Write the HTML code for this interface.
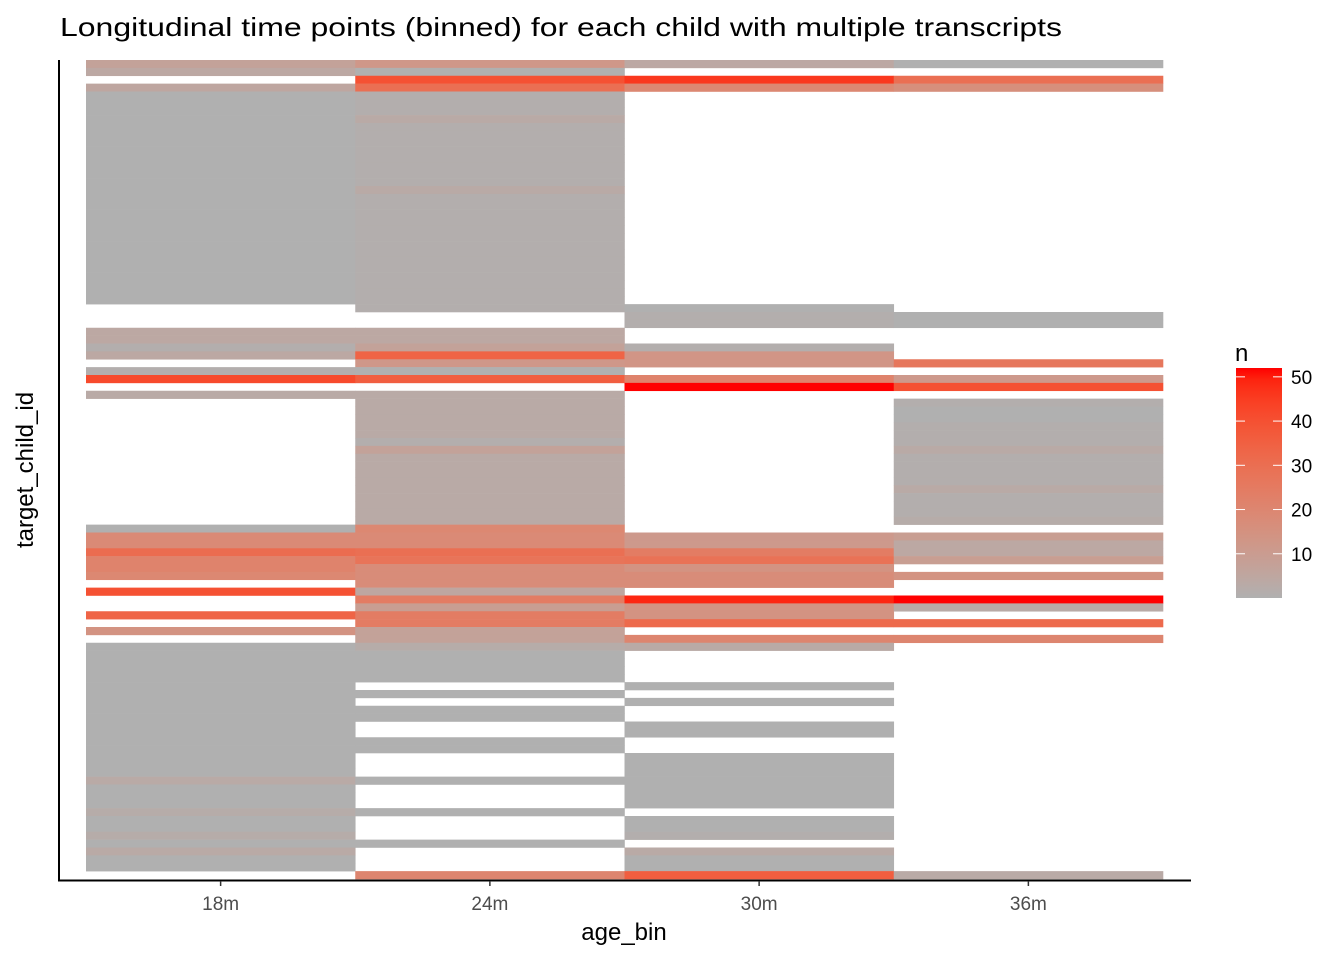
<!DOCTYPE html>
<html><head><meta charset="utf-8">
<style>
html,body{margin:0;padding:0;background:#fff;}
svg{display:block;font-family:"Liberation Sans",Arial,sans-serif;}
</style></head>
<body>
<svg id="chart" width="1344" height="960" xmlns="http://www.w3.org/2000/svg">
  <text x="60" y="36" font-size="26" textLength="1002" lengthAdjust="spacingAndGlyphs" fill="#000">Longitudinal time points (binned) for each child with multiple transcripts</text>
  <g id="cells"></g>
  <line x1="59" y1="60" x2="59" y2="881" stroke="#000" stroke-width="2"/>
  <line x1="58" y1="880.5" x2="1191" y2="880.5" stroke="#000" stroke-width="2"/>
  <g id="xticks"></g>
  <text x="624" y="940" font-size="24" text-anchor="middle" fill="#000">age_bin</text>
  <text transform="translate(33,470) rotate(-90)" font-size="24" text-anchor="middle" fill="#000">target_child_id</text>
  <text x="1235" y="361" font-size="24" fill="#000">n</text>
  <defs><linearGradient id="lg" x1="0" y1="1" x2="0" y2="0"></linearGradient></defs>
  <rect x="1236" y="368" width="46" height="230" fill="url(#lg)"/>
  <g id="legend"></g>
</svg>
<script>
const categories = ["18m","24m","30m","36m"];
const c18 = [8,5,0,6,1,1,1,1,1,1, 1,1,1,1,1,1,1,1,1,1, 1,1,1,1,1,1,1,1,1,1, 1,0,0,0,5,5,2,5,0,2, 42,0,4,0,0,0,0,0,0,0, 0,0,0,0,0,0,0,0,0,1, 19,19,31,22,22,20,0,40,0,0, 34,0,15,0,1,1,1,1,1,1, 1,1,1,1,1,1,1,1,1,1, 1,4,1,1,1,3,1,1,3,1, 4,1,1,0];
const c24 = [13,1,40,30,2,2,2,4,2,2, 2,2,2,2,2,2,4,2,2,2, 2,2,2,2,2,2,2,2,2,2, 2,2,0,0,5,5,8,34,13,1, 36,0,4,4,4,4,4,4,2,8, 4,4,4,4,4,4,4,4,4,20, 19,19,30,28,18,18,18,6,25,10, 25,25,8,8,3,1,1,1,1,0, 1,0,1,1,0,0,1,1,0,0, 0,1,0,0,0,1,0,0,0,1, 0,0,0,21];
const c30 = [5,0,46,20,0,0,0,0,0,0, 0,0,0,0,0,0,0,0,0,0, 0,0,0,0,0,0,0,0,0,0, 0,1,2,2,0,0,2,14,14,0, 22,52,0,0,0,0,0,0,0,0, 0,0,0,0,0,0,0,0,0,0, 12,12,25,29,15,18,18,0,49,15, 15,32,0,21,4,0,0,0,0,1, 0,1,0,0,1,1,0,0,1,1, 1,1,1,1,1,0,1,1,2,0, 4,1,1,36];
const c36 = [1,0,30,17,0,0,0,0,0,0, 0,0,0,0,0,0,0,0,0,0, 0,0,0,0,0,0,0,0,0,0, 0,0,1,1,0,0,0,0,27,0, 12,40,0,2,1,1,2,2,2,4, 2,2,2,2,4,2,2,2,3,0, 10,5,5,10,0,15,0,0,52,4, 0,32,0,21,0,0,0,0,0,0, 0,0,0,0,0,0,0,0,0,0, 0,0,0,0,0,0,0,0,0,0, 0,0,0,4];
const legendTicks = [10,20,30,40,50];
const series = [c18,c24,c30,c36];

const NS = "http://www.w3.org/2000/svg";
const nRows = c18.length;
const plotTop = 60, plotBottom = 879, colLeft = 86, colW = 269.25;
const yScale = i => plotTop + i * (plotBottom - plotTop) / nRows;
const xScale = j => colLeft + j * colW;
const nMin = 1, nMax = 52;

function toLin(c){c/=255;return c<=0.04045?c/12.92:Math.pow((c+0.055)/1.055,2.4);}
function fromLin(c){c=c<=0.0031308?12.92*c:1.055*Math.pow(c,1/2.4)-0.055;return Math.max(0,Math.min(255,Math.round(c*255)));}
function rgb2lab(r,g,b){r=toLin(r);g=toLin(g);b=toLin(b);
 let x=(r*0.4124+g*0.3576+b*0.1805)/0.95047,y=(r*0.2126+g*0.7152+b*0.0722),z=(r*0.0193+g*0.1192+b*0.9505)/1.08883;
 const f=t=>t>0.008856?Math.cbrt(t):7.787*t+16/116;x=f(x);y=f(y);z=f(z);
 return [116*y-16,500*(x-y),200*(y-z)];}
function lab2rgb(L,a,bb){let y=(L+16)/116,x=a/500+y,z=y-bb/200;
 const fi=t=>t*t*t>0.008856?t*t*t:(t-16/116)/7.787;x=fi(x)*0.95047;y=fi(y);z=fi(z)*1.08883;
 const r=x*3.2406+y*-1.5372+z*-0.4986,g=x*-0.9689+y*1.8758+z*0.0415,b=x*0.0557+y*-0.2040+z*1.0570;
 return "rgb("+fromLin(r)+","+fromLin(g)+","+fromLin(b)+")";}
const lo = rgb2lab(176,176,176), hi = rgb2lab(255,0,0);
function color(n){const t=Math.max(0,Math.min(1,(n-nMin)/(nMax-nMin)));
 return lab2rgb(lo[0]+(hi[0]-lo[0])*t, lo[1]+(hi[1]-lo[1])*t, lo[2]+(hi[2]-lo[2])*t);}

const cells = document.getElementById("cells");
series.forEach((arr,j)=>{
  arr.forEach((v,i)=>{
    if(!v) return;
    const r=document.createElementNS(NS,"rect");
    r.setAttribute("x",xScale(j));
    r.setAttribute("y",yScale(i));
    r.setAttribute("width",colW+0.3);
    r.setAttribute("height",yScale(i+1)-yScale(i)+0.3);
    r.setAttribute("fill",color(v));
    
    
    cells.appendChild(r);
  });
});

const xt = document.getElementById("xticks");
categories.forEach((c,j)=>{
  const cx = xScale(j)+colW/2;
  const l=document.createElementNS(NS,"line");
  l.setAttribute("x1",cx);l.setAttribute("x2",cx);l.setAttribute("y1",881);l.setAttribute("y2",886);
  l.setAttribute("stroke","#333");l.setAttribute("stroke-width","1.5");
  
  
  xt.appendChild(l);
  const t=document.createElementNS(NS,"text");
  t.setAttribute("x",cx);t.setAttribute("y",910);t.setAttribute("font-size","19");
  t.setAttribute("text-anchor","middle");t.setAttribute("fill","#4D4D4D");
  t.textContent=c;
  
  
  xt.appendChild(t);
});

const lg=document.getElementById("lg");
for(let k=0;k<=20;k++){
  const s=document.createElementNS(NS,"stop");
  s.setAttribute("offset",(k/20));
  s.setAttribute("stop-color",color(nMin+(nMax-nMin)*k/20));
  lg.appendChild(s);
}
const barTop=368, barBot=598;
const lMin = 0;
const ly = n => barBot - (n-lMin)/(nMax-lMin)*(barBot-barTop);
const lgG=document.getElementById("legend");
legendTicks.forEach(n=>{
  const y=ly(n);
  [[1236,1245],[1273,1282]].forEach(p=>{
    const l=document.createElementNS(NS,"line");
    l.setAttribute("x1",p[0]);l.setAttribute("x2",p[1]);l.setAttribute("y1",y);l.setAttribute("y2",y);
    l.setAttribute("stroke","#fff");l.setAttribute("stroke-width","1");
    
    
    lgG.appendChild(l);
  });
  const t=document.createElementNS(NS,"text");
  t.setAttribute("x",1291);t.setAttribute("y",y+7);t.setAttribute("font-size","19");t.setAttribute("fill","#000");
  t.textContent=n;
  
  
  lgG.appendChild(t);
});
</script>
</body></html>
